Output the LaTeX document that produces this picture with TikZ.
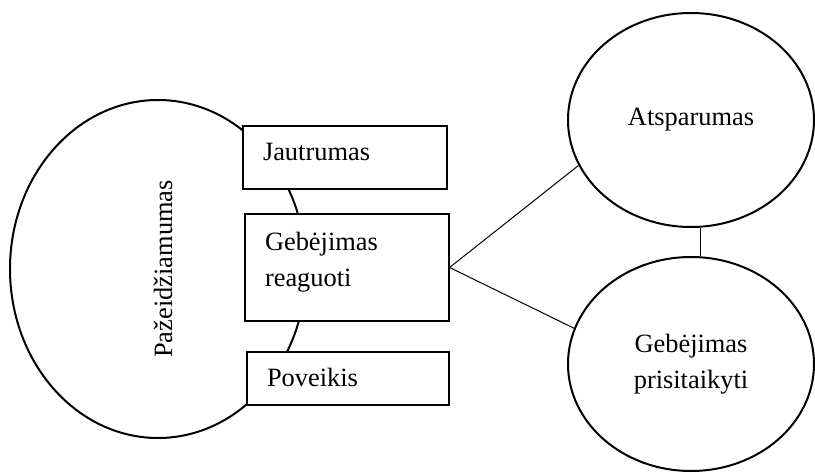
\documentclass[tikz,border=0pt]{standalone}
\usepackage{fontspec}
\setmainfont{Liberation Serif}
\usetikzlibrary{shapes.geometric}
\tikzset{
  bigoval/.style={ellipse, draw, line width=2pt},
  oval/.style={ellipse, draw, line width=2pt, minimum width=246pt, minimum height=214pt, align=center, inner sep=0pt},
  itembox/.style={draw, line width=1.2pt, fill=white, minimum width=204pt, text width=164pt, inner xsep=20pt, inner ysep=0pt, align=left, text height=18pt},
  link/.style={line width=1pt}
}
\begin{document}
\begin{tikzpicture}[x=1pt,y=-1pt,font=\fontsize{26.4}{36}\selectfont]
\useasboundingbox (0,0) rectangle (815,473);
% big oval behind the boxes
\node[bigoval, minimum width=296pt, minimum height=338pt] (pazeid) at (158,269) {};
\node[rotate=90] at ([xshift=5pt]pazeid.center) {Pažeidžiamumas};
% boxes
\node[itembox, minimum height=63pt, text depth=11pt] (jautr) at (345,157.5) {Jautrumas};
\node[itembox, minimum height=107pt, text depth=52pt] (reag) at (347,267.5) {Gebėjimas\\reaguoti};
\node[itembox, minimum width=202pt, text width=162pt, minimum height=53pt, text depth=1pt] (poveik) at (348,378.5) {Poveikis};
% ovals on the right
\node[oval] (atspar) at (691,120) {Atsparumas};
\node[oval] (prisit) at (691,364) {Gebėjimas\\prisitaikyti};
\draw[link] (reag.east) -- (atspar.202);
\draw[link] (reag.east) -- (prisit.163);
\draw[link] (atspar.-85) -- (prisit.85);
\end{tikzpicture}
\end{document}
